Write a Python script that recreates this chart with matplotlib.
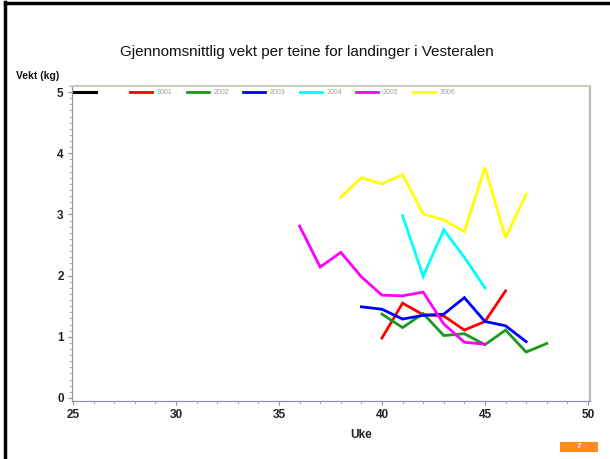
import matplotlib
matplotlib.use("Agg")
import matplotlib.pyplot as plt
from matplotlib.patches import FancyBboxPatch
from matplotlib.lines import Line2D
import matplotlib.transforms as mtransforms
from matplotlib.ticker import MultipleLocator

plt.rcParams['font.family'] = ['Liberation Sans', 'DejaVu Sans']

title = "Gjennomsnittlig vekt per teine for landinger i Vesteralen"
xlabel = "Uke"
ylabel = "Vekt (kg)"

years = ["2001", "2002", "2003", "2004", "2005", "2006"]
colors = ["#ff0000", "#1a9a1a", "#0000ff", "#00ffff", "#ff00ff", "#ffff00"]

weeks_2001 = [40, 41, 42, 43, 44, 45, 46]
vals_2001 = [0.98, 1.55, 1.36, 1.34, 1.11, 1.25, 1.75]

weeks_2002 = [40, 41, 42, 43, 44, 45, 46, 47, 48]
vals_2002 = [1.37, 1.15, 1.38, 1.02, 1.05, 0.87, 1.11, 0.75, 0.89]

weeks_2003 = [39, 40, 41, 42, 43, 44, 45, 46, 47]
vals_2003 = [1.49, 1.45, 1.29, 1.35, 1.37, 1.64, 1.25, 1.18, 0.92]

weeks_2004 = [41, 42, 43, 44, 45]
vals_2004 = [2.98, 1.99, 2.75, 2.30, 1.80]

weeks_2005 = [36, 37, 38, 39, 40, 41, 42, 43, 44, 45]
vals_2005 = [2.81, 2.14, 2.38, 1.98, 1.68, 1.67, 1.73, 1.21, 0.91, 0.88]

weeks_2006 = [38, 39, 40, 41, 42, 43, 44, 45, 46, 47]
vals_2006 = [3.28, 3.60, 3.50, 3.65, 3.01, 2.91, 2.72, 3.77, 2.62, 3.33]

series = [
    (weeks_2001, vals_2001),
    (weeks_2002, vals_2002),
    (weeks_2003, vals_2003),
    (weeks_2004, vals_2004),
    (weeks_2005, vals_2005),
    (weeks_2006, vals_2006),
]

W, H = 610, 459
fig = plt.figure(figsize=(W / 100, H / 100), dpi=100)
fig.patch.set_facecolor("white")

ax = fig.add_axes([72 / W, 1 - 401 / H, (590 - 72) / W, (401 - 86) / H])

for (wk, v), c in zip(series, colors):
    ax.plot(wk, v, color=c, lw=2.0, solid_joinstyle="miter")

ax.set_xlim(24.95, 50.1)
ax.set_ylim(-0.05, 5.10)
ax.set_xticks([25, 30, 35, 40, 45, 50])
ax.set_yticks([0, 1, 2, 3, 4, 5])
ax.xaxis.set_minor_locator(MultipleLocator(1))
ax.yaxis.set_minor_locator(MultipleLocator(0.1))
ax.tick_params(axis="both", which="major", direction="out", length=3, width=0.8,
               color="#9090a8", labelsize=8.5, pad=3)
ax.tick_params(axis="both", which="minor", direction="out", length=2, width=0.6,
               color="#a0a0b8")
for lab in ax.get_xticklabels() + ax.get_yticklabels():
    lab.set_fontweight("bold")
    lab.set_color("#222222")

for side in ["left", "bottom"]:
    ax.spines[side].set_color("#9090a8")
    ax.spines[side].set_linewidth(0.9)
ax.spines["right"].set_color("#b8b8b8")
ax.spines["right"].set_linewidth(1.5)
ax.spines["top"].set_color("#c8ccbc")
ax.spines["top"].set_linewidth(1.5)

# legend row inside the plot at y = 5
trans = mtransforms.blended_transform_factory(ax.transAxes, ax.transData)
axw = 590 - 72
ax.add_line(Line2D([(73 - 72) / axw, (96 - 72) / axw], [5.0, 5.0],
                   color="black", lw=2.2, transform=trans))
start_px = 130
step_px = 56.5
for i, (yr, c) in enumerate(zip(years, colors)):
    x0 = start_px + i * step_px
    ax.add_line(Line2D([(x0 - 72) / axw, (x0 + 22 - 72) / axw], [5.0, 5.0],
                       color=c, lw=2.0, transform=trans))
    ax.text((x0 + 27 - 72) / axw, 5.0, yr, transform=trans, fontsize=5,
            color="#a0a0a0", va="center", ha="left")

fig.text(307 / W, 1 - 52 / H, title, ha="center", va="center", fontsize=11,
         color="#111111")
fig.text(16 / W, 1 - 76 / H, ylabel, ha="left", va="center", fontsize=7.5,
         fontweight="bold", color="#111111")
fig.text(361 / W, 1 - 435 / H, xlabel, ha="center", va="center", fontsize=8.5,
         fontweight="bold", color="#222222")

# frame borders (left and top)
fig.add_artist(Line2D([5 / W, 5 / W], [0, 1 - 2 / H], color="black", lw=2.5,
                      transform=fig.transFigure))
fig.add_artist(Line2D([5 / W, 1], [1 - 2.5 / H, 1 - 2.5 / H], color="black", lw=2.5,
                      transform=fig.transFigure))

# page badge
badge = FancyBboxPatch((560 / W, 1 - 452 / H), 38 / W, 10 / H,
                       boxstyle="square,pad=0", facecolor="#ff8c1a",
                       edgecolor="none", transform=fig.transFigure)
fig.add_artist(badge)
fig.text(579 / W, 1 - 447 / H, "7", ha="center", va="center", fontsize=6,
         color="white", fontweight="bold")

fig.savefig("out.png", dpi=100)
